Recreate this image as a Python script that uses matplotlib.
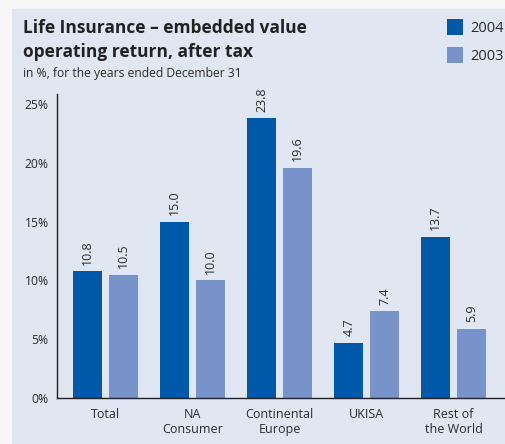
import matplotlib

matplotlib.use("Agg")

import matplotlib.pyplot as plt
import numpy as np
from matplotlib.patches import Rectangle

categories = ["Total", "NA\nConsumer", "Continental\nEurope", "UKISA", "Rest of\nthe World"]
values_2004 = [10.8, 15.0, 23.8, 4.7, 13.7]
values_2003 = [10.5, 10.0, 19.6, 7.4, 5.9]
years = ["2004", "2003"]
y_ticks = [0, 5, 10, 15, 20, 25]

C_2004 = "#0058a9"
C_2003 = "#7893c9"
PANEL = "#e0e6f2"
TEXT = "#2b2b2b"

plt.rcParams["font.family"] = ["Open Sans", "DejaVu Sans"]

fig = plt.figure(figsize=(5.05, 4.44), dpi=100)
fig.patch.set_facecolor("#f6f6f6")

# shaded panel behind everything, pixel coordinates
bg = fig.add_axes([0, 0, 1, 1], zorder=-1)
bg.set_axis_off()
bg.set_xlim(0, 505)
bg.set_ylim(444, 0)
bg.add_patch(Rectangle((12, 9), 500, 440, facecolor=PANEL, edgecolor="none"))

ax = fig.add_axes([57 / 505, 1 - 398 / 444, 1 - 57 / 505, (398 - 94) / 444], zorder=1)
ax.set_facecolor("none")

x = np.arange(len(categories))
width = 0.335
offset = 0.205
bars_a = ax.bar(x - offset, values_2004, width, color=C_2004)
bars_b = ax.bar(x + offset, values_2003, width, color=C_2003)

for bars, vals in ((bars_a, values_2004), (bars_b, values_2003)):
    for b, v in zip(bars, vals):
        ax.text(b.get_x() + b.get_width() / 2, v + 0.55, f"{v:.1f}", rotation=90,
                ha="center", va="bottom", fontsize=9, color=TEXT)

ax.set_xlim(-0.56, 4.59)
ax.set_ylim(0, 25.85)
ax.set_yticks(y_ticks)
ax.set_yticklabels([f"{t}%" for t in y_ticks])
ax.set_xticks(x)
ax.set_xticklabels(categories, linespacing=1.2)
ax.tick_params(length=0, colors=TEXT)
ax.tick_params(axis="x", pad=7, labelsize=9)
ax.tick_params(axis="y", pad=6, labelsize=8.7)
for lbl in ax.get_yticklabels():
    lbl.set_y(lbl.get_position()[1])
    lbl.set_verticalalignment("center_baseline")
for s in ("top", "right"):
    ax.spines[s].set_visible(False)
for s in ("left", "bottom"):
    ax.spines[s].set_color("#222222")
    ax.spines[s].set_linewidth(1.0)

bg.text(23, 19, "Life Insurance – embedded value\noperating return, after tax",
        fontsize=12.5, fontweight="bold", color="#222222", va="top", ha="left",
        linespacing=1.45)
bg.text(23, 73, "in %, for the years ended December 31",
        fontsize=8.7, color=TEXT, va="center", ha="left")

for i, (yr, col) in enumerate(zip(years, (C_2004, C_2003))):
    top = 19 + i * 28
    bg.add_patch(Rectangle((447, top), 16, 16, facecolor=col, edgecolor="none"))
    bg.text(470, top + 9, yr, fontsize=10.5, color=TEXT, va="center", ha="left")

fig.savefig("out.png", dpi=100)
